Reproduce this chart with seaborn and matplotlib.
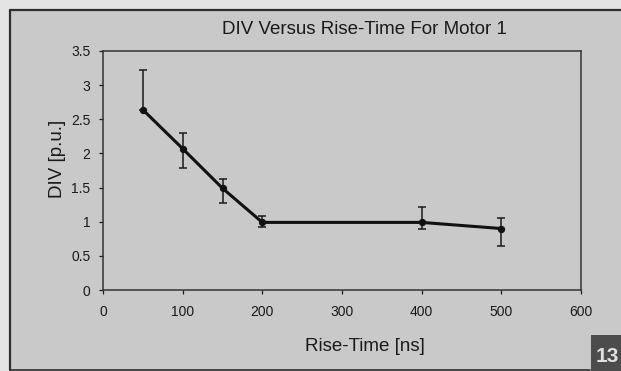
import matplotlib
matplotlib.use("Agg")
import matplotlib.pyplot as plt
import seaborn as sns
import pandas as pd
from matplotlib.patches import Rectangle
from matplotlib.lines import Line2D

rise_time = [50, 100, 150, 200, 400, 500]
div_pu = [2.64, 2.07, 1.49, 0.99, 0.99, 0.90]
err_low = [0.0, 0.28, 0.22, 0.07, 0.10, 0.26]
err_high = [0.58, 0.23, 0.14, 0.09, 0.22, 0.16]
x_ticks = [0, 100, 200, 300, 400, 500, 600]
y_ticks = [0, 0.5, 1, 1.5, 2, 2.5, 3, 3.5]
y_tick_labels = ["0", "0.5", "1", "1.5", "2", "2.5", "3", "3.5"]

df = pd.DataFrame({"Rise-Time": rise_time, "DIV": div_pu})

sns.set_theme(style="white")
plt.rcParams['font.family'] = ['Liberation Sans', 'DejaVu Sans']

W, H = 621, 371
bg = "#c9c9c9"
fig = plt.figure(figsize=(6.21, 3.71), dpi=100, facecolor="#e4e4e4")

# inner panel background and frame
fig.patches.append(Rectangle((10/W, 0), 1, (H-10)/H, transform=fig.transFigure,
                             facecolor=bg, edgecolor="none", zorder=-10))
fig.lines.append(Line2D([10/W, 1], [(H-10)/H, (H-10)/H], transform=fig.transFigure,
                        color="#2e2e2e", linewidth=1.6, zorder=-5))
fig.lines.append(Line2D([10/W, 10/W], [1/H, (H-10)/H], transform=fig.transFigure,
                        color="#2e2e2e", linewidth=1.6, zorder=-5))
fig.lines.append(Line2D([10/W, 590/W], [1.5/H, 1.5/H], transform=fig.transFigure,
                        color="#2e2e2e", linewidth=1.2, zorder=-5))

ax = fig.add_axes([103/W, 1 - 290/H, 478/W, 239/H])
ax.set_facecolor(bg)
ax.set_zorder(1)

ax.errorbar(rise_time, div_pu, yerr=[err_low, err_high], fmt="none",
            ecolor="#1a1a1a", elinewidth=1.1, capsize=3, capthick=1.1, zorder=2)
sns.lineplot(data=df, x="Rise-Time", y="DIV", ax=ax, color="#111111",
             linewidth=2.2, marker="o", markersize=4.5, markeredgecolor="#111111",
             zorder=3)

ax.set_xlim(0, 600)
ax.set_ylim(0, 3.5)
ax.set_xticks(x_ticks)
ax.set_xticklabels([str(t) for t in x_ticks])
ax.set_yticks(y_ticks)
ax.set_yticklabels(y_tick_labels)
ax.tick_params(axis="both", labelsize=10, colors="#1a1a1a", length=3,
               width=0.9, direction="out", left=True, bottom=True)
ax.tick_params(axis="x", pad=8)
ax.tick_params(axis="y", pad=6)
for lab in ax.get_xticklabels() + ax.get_yticklabels():
    lab.set_fontweight("medium")
for s in ax.spines.values():
    s.set_color("#333333")
    s.set_linewidth(1.1)

ax.set_xlabel("Rise-Time [ns]", fontsize=13.5, color="#1a1a1a")
ax.set_ylabel("DIV [p.u.]", fontsize=13.5, color="#1a1a1a")
ax.xaxis.set_label_coords(0.548, -0.20)
ax.yaxis.set_label_coords(-0.077, 0.55)
fig.text(364/W, 1 - 30/H, "DIV Versus Rise-Time For Motor 1", ha="center",
         va="center", fontsize=13.5, color="#1a1a1a")

# page number box
fig.patches.append(Rectangle((591/W, 0), 30/W, 36/H,
                             transform=fig.transFigure, facecolor="#4c4c4c",
                             edgecolor="none", zorder=5))
fig.text(607/W, 15/H, "13", ha="center", va="center", fontsize=15,
         fontweight="bold", color="#e0e0e0", zorder=6)

fig.savefig("out.png", dpi=100, facecolor=fig.get_facecolor())
